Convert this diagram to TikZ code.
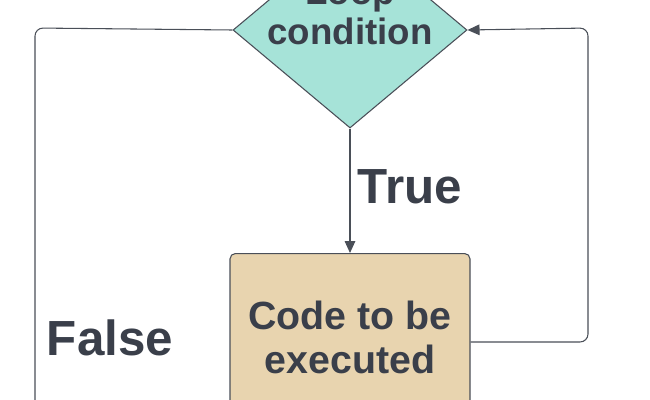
\documentclass[tikz,border=0pt]{standalone}
\usepackage{fontspec}
\setmainfont{Liberation Sans}
\usetikzlibrary{shapes.geometric,arrows.meta}
\definecolor{txt}{HTML}{3A3F4A}
\definecolor{dia}{HTML}{A6E3D8}
\definecolor{boxc}{HTML}{E8D4AF}
\definecolor{ln}{HTML}{4A4F58}
\tikzset{
  lbl/.style={text=txt,font=\bfseries\fontsize{37}{37}\selectfont},
  conn/.style={draw=ln,line width=0.8pt,rounded corners=6pt,-{Triangle[length=9pt,width=8pt]}},
}
\begin{document}
\begin{tikzpicture}[x=0.75pt,y=-0.75pt]
\useasboundingbox (0,0) rectangle (650,400);
\clip (0,0) rectangle (650,400);
\node[diamond,draw=ln,line width=0.8pt,fill=dia,minimum width=175.5pt,minimum height=147pt,inner sep=0pt] (d) at (350,30) {};
\node[text=txt,font=\bfseries\fontsize{27.5}{30}\selectfont,align=center] (dt) at (350,12) {Loop\\condition};
\node[draw=ln,line width=0.8pt,fill=boxc,rounded corners=4pt,minimum width=180pt,minimum height=135pt,anchor=north,inner sep=0pt] (b) at (350,253) {};
\node[text=txt,font=\bfseries\fontsize{29.5}{33}\selectfont,align=center] (bt) at (350,337) {Code to be\\executed};
\draw[conn] (d.south) -- (b.north);
\coordinate (r1) at (588,342);
\coordinate (r2) at (588,28);
\draw[conn] (b.east |- r1) -- (r1) -- (r2) -- (d.east);
\coordinate (l1) at (35,28);
\coordinate (l2) at (35,410);
\draw[draw=ln,line width=0.8pt,rounded corners=6pt] (d.west) -- (l1) -- (l2);
\node[lbl] (t) at (410,187) {True};
\node[lbl] (f) at (110,338) {False};
\end{tikzpicture}
\end{document}
